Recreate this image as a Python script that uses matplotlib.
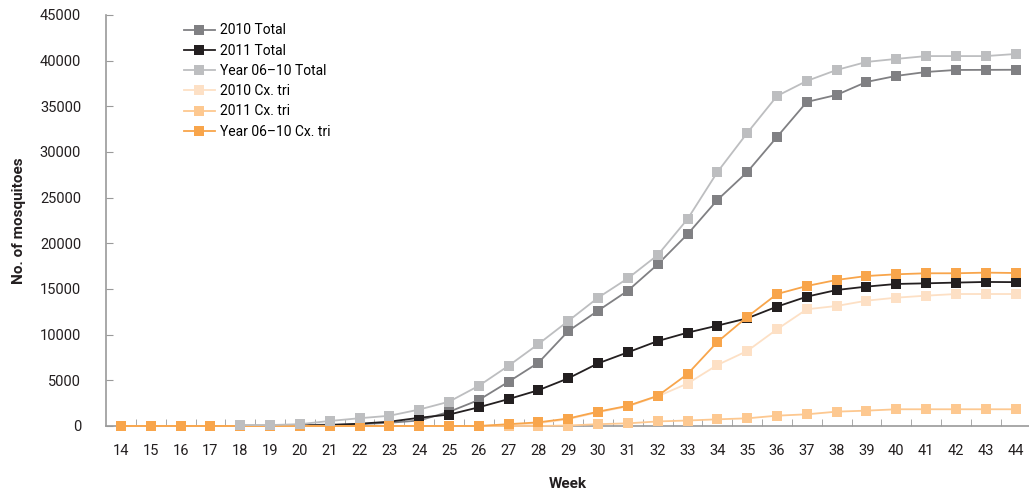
import matplotlib
matplotlib.use('Agg')
import matplotlib.pyplot as plt
import numpy as np

# ─── Data ───────────────────────────────────────────────────────────
weeks = list(range(14, 45))
nan = np.nan

total_2010 = [nan, nan, nan, nan, 50, 50, 100, 150, 200, 350, 600, 1550, 2850, 4850, 6930,
              10400, 12630, 14820, 17700, 21000, 24750, 27800, 31650, 35480, 36250, 37670,
              38330, 38760, 38980, 38990, 39000]
total_2011 = [nan, nan, nan, nan, 0, 0, 50, 100, 250, 470, 900, 1250, 2050, 2950, 3920,
              5220, 6860, 8070, 9300, 10220, 10990, 11790, 13070, 14160, 14890, 15260,
              15550, 15620, 15700, 15770, 15750]
total_0610 = [nan, nan, nan, nan, 100, 100, 200, 550, 850, 1120, 1800, 2660, 4400, 6600, 8980,
              11500, 14050, 16170, 18720, 22660, 27800, 32080, 36130, 37780, 38980, 39860,
              40190, 40500, 40500, 40500, 40730]
cx_2010 = [0, 0, 0, 0, 0, 0, 0, 0, 0, 0, 0, 0, 0, 100, 300,
           750, 1500, 2150, 3250, 4650, 6680, 8210, 10590, 12780, 13140, 13720,
           14050, 14270, 14450, 14450, 14450]
cx_2011 = [0, 0, 0, 0, 0, 0, 0, 0, 0, 0, 0, 0, 0, 0, 0,
           50, 200, 290, 500, 600, 730, 840, 1130, 1280, 1570, 1680,
           1830, 1830, 1830, 1830, 1830]
cx_0610 = [0, 0, 0, 0, 0, 0, 0, 0, 0, 0, 0, 0, 0, 200, 400,
           820, 1570, 2210, 3300, 5690, 9200, 11940, 14450, 15330, 15990, 16420,
           16610, 16720, 16720, 16790, 16750]

labels = ['2010 Total', '2011 Total', 'Year 06\u201310 Total',
          '2010 Cx. tri', '2011 Cx. tri', 'Year 06\u201310 Cx. tri']
series = [total_2010, total_2011, total_0610, cx_2010, cx_2011, cx_0610]
colors = ['#808083', '#231F20', '#BDBEC0', '#FDE0C5', '#FDC890', '#F8A54B']
zorders = [3, 4, 8, 5, 6, 7]

plt.rcParams.update({
    'font.family': ['Roboto', 'DejaVu Sans'],
    'font.size': 10,
})

fig = plt.figure(figsize=(10.29, 4.91), dpi=100)
ax = fig.add_axes([0.1031, 0.1324, 0.8969, 0.8371])

for lab, vals, c, z in zip(labels, series, colors, zorders):
    ax.plot(weeks, vals, '-s', color=c, label=lab, linewidth=1.3,
            markersize=7.5, markeredgewidth=0, zorder=z, clip_on=False)

ax.set_xlim(13.5, 44.45)
ax.set_ylim(0, 45000)
ax.set_yticks(np.arange(0, 45001, 5000))
ax.set_xticks(weeks)
ax.set_xticks(np.arange(14.5, 44, 1), minor=True)

for s in ['top', 'right']:
    ax.spines[s].set_visible(False)
for s in ['left', 'bottom']:
    ax.spines[s].set_color('#9A9A9A')
    ax.spines[s].set_linewidth(1.2)

ax.tick_params(axis='y', direction='in', length=5, color='#9A9A9A',
               labelsize=10.5, labelcolor='#231F20', pad=18)
ax.tick_params(axis='x', which='major', length=0, labelsize=10.5,
               labelcolor='#231F20', pad=13)
ax.tick_params(axis='x', which='minor', direction='in', length=5, color='#9A9A9A')

ax.set_xlabel('Week', fontweight='bold', fontsize=11, labelpad=14, color='#231F20')
ax.set_ylabel('No. of mosquitoes', fontweight='bold', fontsize=11, labelpad=10,
              color='#231F20')

ax.legend(loc='upper left', bbox_to_anchor=(0.071, 1.01), frameon=False,
          fontsize=10, handlelength=2.2, labelspacing=0.45, handletextpad=0.4)

fig.savefig('out.png', dpi=100, facecolor='white')
